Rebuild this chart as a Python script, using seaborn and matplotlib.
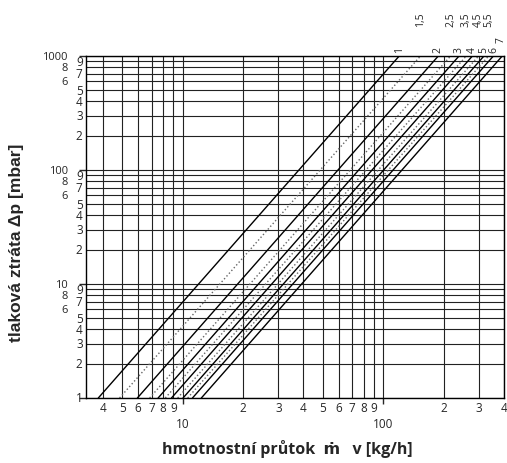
import matplotlib
matplotlib.use('Agg')
import matplotlib.pyplot as plt
from matplotlib.ticker import LogLocator, NullFormatter
import seaborn as sns
import numpy as np

# presetting labels and flow (kg/h) at which each line crosses 1 mbar
settings = ['1', '1,5', '2', '2,5', '3', '3,5', '4', '4,5', '5', '5,5', '6', '7']
flow_at_1mbar = [3.8, 4.85, 5.95, 6.85, 7.55, 8.2, 8.8, 9.45, 10.05, 10.6, 11.2, 12.4]

dp_range = [1, 1000]

# x tick labels
x_minor_vals = [4, 5, 6, 7, 8, 9, 20, 30, 40, 50, 60, 70, 80, 90, 200, 300, 400]
x_minor_text = ['4', '5', '6', '7', '8', '9', '2', '3', '4', '5', '6', '7', '8', '9', '2', '3', '4']
x_major_vals = [10, 100]
x_major_text = ['10', '100']

# y tick labels, two columns
y_left_vals = [1000, 800, 600, 100, 80, 60, 10, 8, 6]
y_left_text = ['1000', '8', '6', '100', '8', '6', '10', '8', '6']
y_right_vals = [900, 700, 500, 400, 300, 200, 90, 70, 50, 40, 30, 20, 9, 7, 5, 4, 3, 2, 1]
y_right_text = ['9', '7', '5', '4', '3', '2', '9', '7', '5', '4', '3', '2', '9', '7', '5', '4', '3', '2', '1']

sns.set_style('white')
plt.rcParams['font.family'] = ['Open Sans', 'DejaVu Sans']

W, H = 507, 464
fig = plt.figure(figsize=(W / 100, H / 100), dpi=100)
ax = fig.add_axes([86 / W, 1 - 399 / H, (504 - 86) / W, (399 - 57) / H])
ax.set_xscale('log')
ax.set_yscale('log')
ax.set_xlim(3.3, 400)
ax.set_ylim(1, 1000)

for s in ax.spines.values():
    s.set_color('black')
    s.set_linewidth(1.0)

# pressure loss lines dp = (m / m0)^2
dp = np.array(dp_range, dtype=float)
for name, m0 in zip(settings, flow_at_1mbar):
    m = m0 * np.sqrt(dp)
    dotted = ',' in name
    sns.lineplot(x=m, y=dp, ax=ax, color='#666666' if dotted else 'black',
                 linestyle=':' if dotted else '-', linewidth=1.0, legend=False)
    top = m0 * np.sqrt(dp_range[1])
    if name == '7':
        off, dx = 14, -1
    elif dotted:
        off, dx = 30, 0
    else:
        off, dx = 4, 0
    ax.annotate(name, xy=(top, dp_range[1]), xytext=(dx, off), textcoords='offset pixels',
                rotation=90, ha='center', va='bottom', fontsize=7.5, annotation_clip=False)

# x ticks
ax.set_xticks(x_major_vals)
ax.set_xticklabels(x_major_text)
ax.set_xticks(x_minor_vals, minor=True)
ax.set_xticklabels(x_minor_text, minor=True)
ax.tick_params(axis='x', which='major', length=4.5, width=1, pad=9, labelsize=8.5, direction='out', bottom=True)
ax.tick_params(axis='x', which='minor', length=0, pad=2, labelsize=8.5, bottom=True)

# y ticks (labels drawn as text in two columns)
ax.set_yticks([1, 10, 100, 1000])
ax.set_yticklabels([])
ax.yaxis.set_minor_locator(LogLocator(base=10, subs=np.arange(2, 10)))
ax.yaxis.set_minor_formatter(NullFormatter())
ax.tick_params(axis='y', which='major', length=5, width=1, left=True, direction='out')
ax.tick_params(axis='y', which='minor', length=0)

ax.grid(True, which='both', color='#222222', linewidth=0.8)

tr = ax.get_yaxis_transform()
for v, t in zip(y_left_vals, y_left_text):
    ax.text(-0.043, v, t, transform=tr, ha='right', va='center', fontsize=8)
for v, t in zip(y_right_vals, y_right_text):
    ax.text(-0.008, v, t, transform=tr, ha='right', va='center', fontsize=8.5)

fig.text(17 / W, 1 - 243 / H, 'tlaková ztráta Δp [mbar]', rotation=90, ha='center', va='center',
         fontsize=12.5, fontweight='bold', family=['Liberation Sans', 'DejaVu Sans'])
fig.text(287 / W, 1 - 449 / H, 'hmotnostní průtok  ṁ   v [kg/h]', ha='center', va='center',
         fontsize=11.5, fontweight='bold')

fig.savefig('out.png', dpi=100)
